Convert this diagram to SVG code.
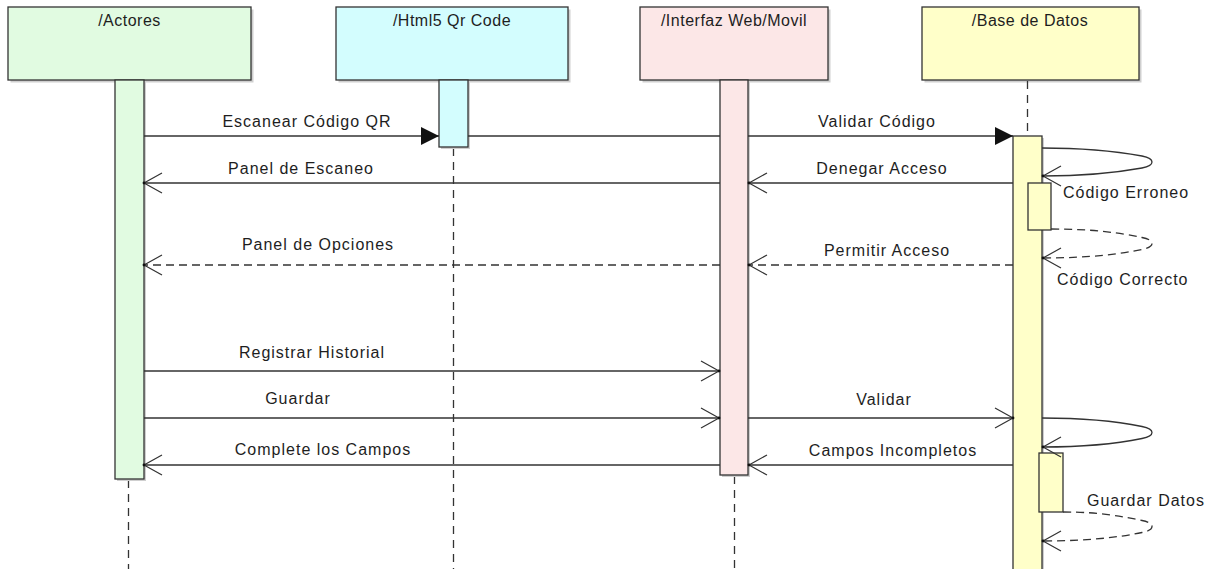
<svg xmlns="http://www.w3.org/2000/svg" width="1214" height="569" viewBox="0 0 1214 569">
<style>
.hd{font-family:"Liberation Sans",Arial,sans-serif;font-size:16px;letter-spacing:0.5px;fill:#1e1e1e;text-anchor:middle}
.lb{font-family:"Liberation Sans",Arial,sans-serif;font-size:16px;letter-spacing:1px;fill:#1e1e1e;text-anchor:middle}
.lbs{font-family:"Liberation Sans",Arial,sans-serif;font-size:16px;letter-spacing:1px;fill:#1e1e1e}
.box{stroke:#333;stroke-width:1.3}
.sh{fill:#cfcfcf}
.ln{stroke:#333;stroke-width:1.3;fill:none}
.dsh{stroke-dasharray:8 5}
.life{stroke:#333;stroke-width:1.3;stroke-dasharray:8 6;fill:none}
</style>
<defs>
<marker id="open" markerUnits="userSpaceOnUse" markerWidth="22" markerHeight="24" refX="19" refY="11" orient="auto" overflow="visible">
<path d="M1,1 L19,11 L1,21" fill="none" stroke="#333" stroke-width="1.2" stroke-dasharray="none"/>
<circle cx="19" cy="11" r="1.4" fill="#111"/>
</marker>
<marker id="fill" markerUnits="userSpaceOnUse" markerWidth="20" markerHeight="20" refX="18" refY="9" orient="auto" overflow="visible">
<path d="M0,0 L18,9 L0,18 Z" fill="#111" stroke="none"/>
</marker>
</defs>
<rect width="1214" height="569" fill="#fff"/>

<g id="actores">
<rect class="sh" x="10.5" y="9.5" width="243" height="73"/>
<rect class="box" x="8" y="7" width="243" height="73" fill="#e1fbe1"/>
<text class="hd" x="129.5" y="26">/Actores</text>
<line class="life" x1="128.5" y1="480" x2="128.5" y2="569"/>
<rect class="sh" x="117" y="82" width="29" height="399"/>
<rect class="box" x="115" y="80" width="29" height="399" fill="#e1fbe1"/>
</g>

<g id="html5">
<rect class="sh" x="338.5" y="9.5" width="232" height="73"/>
<rect class="box" x="336" y="7" width="232" height="73" fill="#d3fdfe"/>
<text class="hd" x="452" y="26">/Html5 Qr Code</text>
<line class="life" x1="453.5" y1="148" x2="453.5" y2="569"/>
<rect class="sh" x="441" y="82" width="29" height="67"/>
<rect class="box" x="439" y="80" width="29" height="67" fill="#d3fdfe"/>
</g>

<g id="interfaz">
<rect class="sh" x="642.5" y="9.5" width="188" height="73"/>
<rect class="box" x="640" y="7" width="188" height="73" fill="#fce7e7"/>
<text class="hd" x="734" y="26">/Interfaz Web/Movil</text>
<line class="life" x1="734.5" y1="476" x2="734.5" y2="569"/>
<rect class="sh" x="722" y="82" width="28" height="395"/>
<rect class="box" x="720" y="80" width="28" height="395" fill="#fce7e7"/>
</g>

<g id="basedatos">
<rect class="sh" x="924.5" y="9.5" width="217" height="73"/>
<rect class="box" x="922" y="7" width="217" height="73" fill="#ffffc9"/>
<text class="hd" x="1030" y="26">/Base de Datos</text>
<line class="life" x1="1027.5" y1="81" x2="1027.5" y2="136"/>
<rect class="sh" x="1015" y="138" width="29" height="440"/>
<rect class="box" x="1013" y="136" width="29" height="440" fill="#ffffc9"/>
<rect class="box" x="1028" y="183" width="23" height="47" fill="#ffffc9"/>
<rect class="box" x="1039" y="453" width="24" height="59" fill="#ffffc9"/>
</g>

<g id="connectors">
<line class="ln" x1="144" y1="136" x2="439" y2="136" marker-end="url(#fill)"/>
<text class="lb" x="307" y="127">Escanear Código QR</text>
<line class="ln" x1="468" y1="136" x2="720" y2="136"/>
<line class="ln" x1="748" y1="136" x2="1013" y2="136" marker-end="url(#fill)"/>
<text class="lb" x="877" y="127">Validar Código</text>

<path class="ln" d="M1042,148 C1090,148 1120,152 1142,156 Q1152,158 1152,162 Q1152,166 1142,168 C1120,172 1090,176 1043,176" marker-end="url(#open)"/>
<text class="lbs" x="1063" y="198">Código Erroneo</text>

<line class="ln" x1="1013" y1="183" x2="749" y2="183" marker-end="url(#open)"/>
<text class="lb" x="882" y="174">Denegar Acceso</text>
<line class="ln" x1="720" y1="183" x2="144" y2="183" marker-end="url(#open)"/>
<text class="lb" x="301" y="174">Panel de Escaneo</text>

<path class="ln dsh" d="M1051,229 C1095,229 1120,233 1142,237.5 Q1152,239.5 1152,243.5 Q1152,247.5 1142,249.5 C1120,254 1090,258 1043,258" marker-end="url(#open)"/>
<text class="lbs" x="1057" y="285">Código Correcto</text>

<line class="ln dsh" x1="1013" y1="265" x2="749" y2="265" marker-end="url(#open)"/>
<text class="lb" x="887" y="256">Permitir Acceso</text>
<line class="ln dsh" x1="720" y1="265" x2="144" y2="265" marker-end="url(#open)"/>
<text class="lb" x="318" y="250">Panel de Opciones</text>

<line class="ln" x1="144" y1="371" x2="719" y2="371" marker-end="url(#open)"/>
<text class="lb" x="312" y="358">Registrar Historial</text>
<line class="ln" x1="144" y1="418" x2="719" y2="418" marker-end="url(#open)"/>
<text class="lb" x="298" y="404">Guardar</text>
<line class="ln" x1="748" y1="418" x2="1013" y2="418" marker-end="url(#open)"/>
<text class="lb" x="884" y="405">Validar</text>

<path class="ln" d="M1042,418 C1090,418 1120,422 1142,426.5 Q1152,428.5 1152,432.5 Q1152,436.5 1142,438.5 C1120,443 1090,447 1043,447" marker-end="url(#open)"/>

<line class="ln" x1="1013" y1="465" x2="749" y2="465" marker-end="url(#open)"/>
<text class="lb" x="893" y="456">Campos Incompletos</text>
<line class="ln" x1="720" y1="465" x2="144" y2="465" marker-end="url(#open)"/>
<text class="lb" x="323" y="455">Complete los Campos</text>

<path class="ln dsh" d="M1063,512 C1100,512 1120,516 1142,520.5 Q1152,522.5 1152,526.5 Q1152,530.5 1142,532.5 C1120,537 1090,541 1043,541" marker-end="url(#open)"/>
<text class="lbs" x="1087" y="506">Guardar Datos</text>
</g>
</svg>
